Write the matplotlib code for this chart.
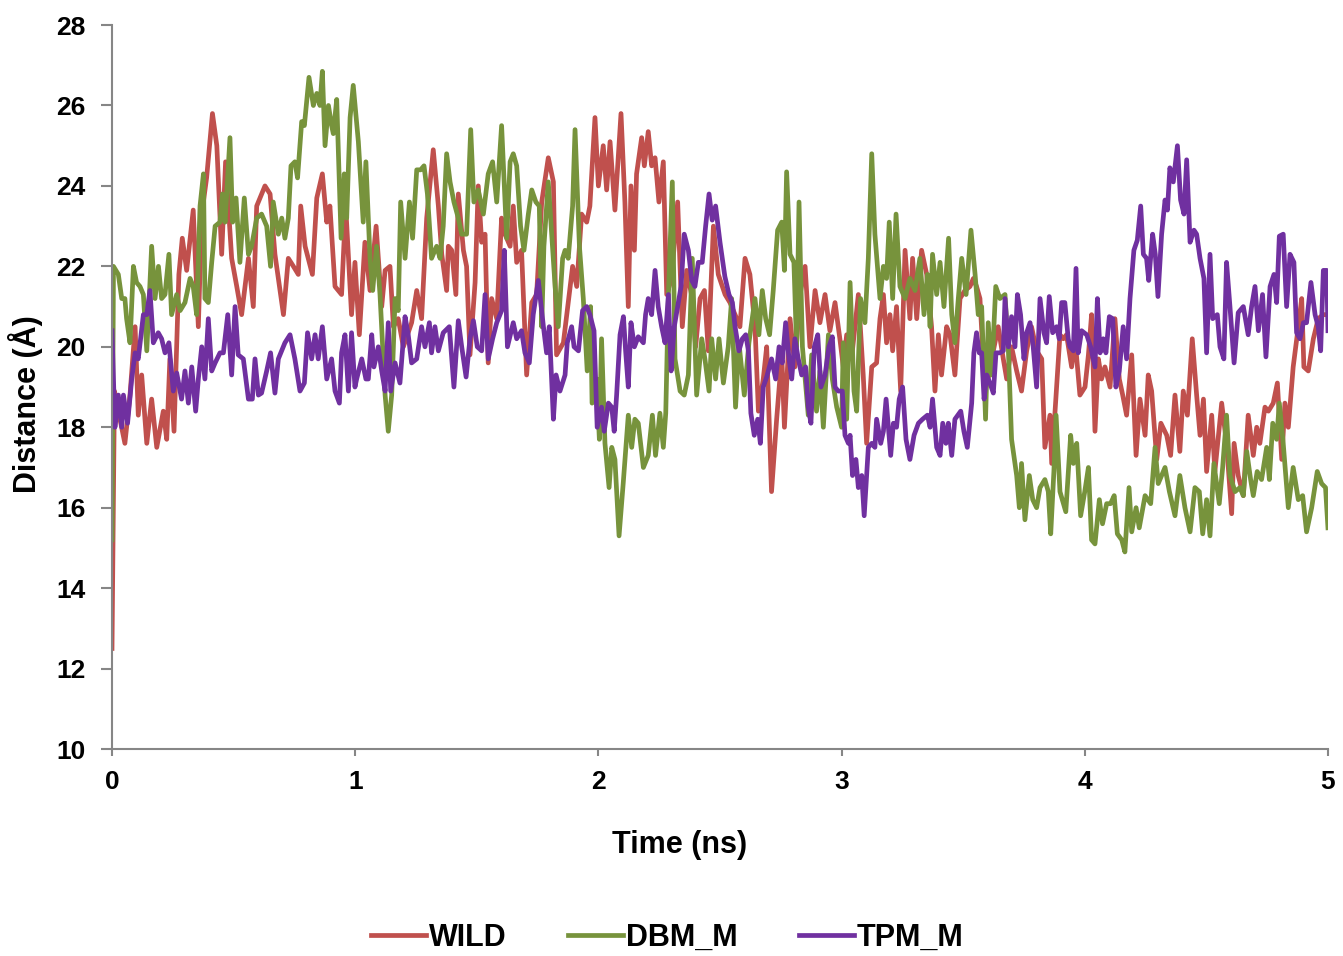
import matplotlib
matplotlib.use("Agg")
import matplotlib.pyplot as plt

plt.rcParams['font.family'] = ['Liberation Sans', 'DejaVu Sans']
plt.rcParams['font.weight'] = 'bold'

# data (time in ns, distance in angstrom)
wild_t = [0.0, 0.01, 0.026, 0.053, 0.074, 0.095, 0.108, 0.122, 0.143, 0.163, 0.184, 0.211, 0.225, 0.238, 0.255,
          0.275, 0.289, 0.307, 0.334, 0.355, 0.369, 0.389, 0.413, 0.431, 0.451, 0.467, 0.492, 0.513, 0.533, 0.561,
          0.581, 0.595, 0.629, 0.65, 0.67, 0.705, 0.725, 0.746, 0.766, 0.776, 0.794, 0.824, 0.842, 0.865, 0.883,
          0.896, 0.917, 0.944, 0.961, 0.985, 0.999, 1.017, 1.04, 1.061, 1.086, 1.109, 1.123, 1.143, 1.157, 1.177,
          1.198, 1.232, 1.253, 1.273, 1.294, 1.321, 1.342, 1.356, 1.376, 1.383, 1.397, 1.414, 1.424, 1.445, 1.458,
          1.472, 1.493, 1.506, 1.52, 1.534, 1.547, 1.561, 1.582, 1.602, 1.616, 1.637, 1.65, 1.664, 1.684, 1.705,
          1.726, 1.746, 1.767, 1.794, 1.815, 1.828, 1.856, 1.876, 1.894, 1.911, 1.931, 1.952, 1.965, 1.986, 2.0,
          2.02, 2.034, 2.048, 2.068, 2.093, 2.109, 2.123, 2.134, 2.148, 2.157, 2.178, 2.189, 2.205, 2.219, 2.233,
          2.249, 2.267, 2.281, 2.301, 2.326, 2.345, 2.363, 2.383, 2.4, 2.418, 2.436, 2.452, 2.473, 2.493, 2.521,
          2.541, 2.562, 2.582, 2.603, 2.623, 2.644, 2.658, 2.678, 2.692, 2.712, 2.733, 2.754, 2.765, 2.788, 2.808,
          2.829, 2.85, 2.87, 2.891, 2.911, 2.932, 2.952, 2.973, 2.993, 3.007, 3.021, 3.041, 3.069, 3.089, 3.103,
          3.124, 3.144, 3.158, 3.172, 3.185, 3.199, 3.21, 3.226, 3.243, 3.261, 3.281, 3.292, 3.309, 3.329, 3.35,
          3.37, 3.384, 3.398, 3.411, 3.432, 3.446, 3.466, 3.487, 3.507, 3.528, 3.542, 3.555, 3.569, 3.59, 3.61,
          3.624, 3.644, 3.665, 3.679, 3.699, 3.72, 3.74, 3.761, 3.781, 3.802, 3.823, 3.836, 3.857, 3.864, 3.884,
          3.898, 3.912, 3.925, 3.946, 3.96, 3.98, 4.001, 4.015, 4.028, 4.042, 4.056, 4.069, 4.083, 4.104, 4.124,
          4.142, 4.156, 4.172, 4.193, 4.211, 4.227, 4.248, 4.261, 4.275, 4.296, 4.313, 4.337, 4.353, 4.371, 4.391,
          4.405, 4.422, 4.442, 4.46, 4.474, 4.488, 4.501, 4.522, 4.535, 4.563, 4.583, 4.604, 4.614, 4.631, 4.652,
          4.672, 4.693, 4.707, 4.72, 4.741, 4.755, 4.775, 4.792, 4.81, 4.823, 4.837, 4.857, 4.878, 4.892, 4.901,
          4.919, 4.94, 4.96, 4.981, 5.0]
wild_d = [12.5, 18.9, 18.4, 17.6, 18.8, 20.5, 18.3, 19.3, 17.6, 18.7, 17.5, 18.4, 17.7, 19.7, 17.9,
          21.8, 22.7, 21.9, 23.4, 20.5, 23.3, 24.2, 25.8, 25.0, 22.3, 24.6, 22.2, 21.5, 20.8, 22.2,
          21.0, 23.5, 24.0, 23.8, 22.3, 20.8, 22.2, 22.0, 21.8, 23.5, 22.5, 21.8, 23.7, 24.3, 23.1,
          23.5, 21.5, 21.3, 23.5, 20.8, 22.1, 20.3, 22.6, 21.4, 23.0, 21.0, 21.9, 22.0, 20.5, 20.7,
          20.0, 20.6, 21.4, 20.7, 23.2, 24.9, 23.5, 22.3, 21.4, 22.5, 22.4, 21.3, 23.8, 22.4, 22.0,
          19.8, 21.6, 24.0, 22.6, 22.8, 19.6, 21.2, 20.7, 23.2, 22.8, 22.5, 23.5, 22.1, 22.4, 19.3,
          21.1, 21.3, 23.6, 24.7, 24.1, 19.8, 20.1, 21.1, 22.0, 21.5, 23.3, 23.1, 23.5, 25.7, 24.0,
          25.0, 23.9, 25.1, 23.4, 25.8, 23.6, 21.0, 24.0, 22.4, 24.3, 25.2, 24.5, 25.35, 24.5, 24.7,
          23.6, 24.6, 21.3, 21.7, 23.6, 20.5, 21.9, 21.3, 20.0, 21.2, 21.4, 19.9, 23.0, 21.8, 21.3,
          21.1, 20.8, 20.5, 22.2, 21.8, 20.5, 18.4, 19.2, 20.0, 16.4, 18.2, 19.8, 18.0, 20.7, 19.5,
          21.3, 22.0, 20.0, 21.4, 20.6, 21.3, 20.4, 21.1, 20.2, 19.5, 20.3, 19.7, 21.3, 19.3, 17.6,
          19.5, 19.6, 20.7, 21.3, 20.1, 20.8, 19.9, 21.0, 18.9, 22.4, 20.7, 22.2, 20.7, 22.4, 21.8,
          20.5, 18.9, 20.3, 19.3, 20.5, 20.3, 19.3, 21.2, 21.4, 21.5, 21.7, 21.5, 21.2, 18.9, 19.4,
          19.9, 20.5, 19.7, 19.2, 20.0, 19.4, 18.9, 19.9, 20.5, 19.9, 19.7, 17.5, 18.3, 17.1, 19.0,
          20.3, 20.2, 20.3, 19.5, 20.2, 18.8, 19.0, 19.8, 20.8, 17.9, 19.7, 19.2, 19.5, 19.0, 20.7,
          19.2, 18.8, 18.3, 19.8, 17.3, 18.7, 17.8, 19.3, 18.9, 17.2, 18.1, 17.8, 17.3, 18.8, 17.4,
          18.9, 18.3, 20.2, 18.8, 17.8, 18.7, 16.9, 18.3, 16.9, 18.6, 17.6, 15.85, 17.6, 16.8, 16.3,
          18.3, 17.3, 18.0, 17.6, 18.5, 18.4, 18.6, 19.1, 17.2, 18.6, 18.0, 19.5, 20.5, 21.2, 19.5,
          19.4, 20.2, 20.7, 20.8, 20.8]

dbm_t = [0.0, 0.006, 0.026, 0.04, 0.053, 0.06, 0.074, 0.088, 0.101, 0.115, 0.129, 0.143, 0.163, 0.177, 0.191,
         0.204, 0.218, 0.234, 0.245, 0.266, 0.28, 0.3, 0.321, 0.334, 0.348, 0.362, 0.376, 0.382, 0.396, 0.41,
         0.424, 0.444, 0.454, 0.465, 0.485, 0.496, 0.51, 0.526, 0.544, 0.561, 0.574, 0.595, 0.615, 0.636, 0.652,
         0.663, 0.684, 0.698, 0.711, 0.725, 0.736, 0.752, 0.763, 0.78, 0.791, 0.81, 0.828, 0.842, 0.855, 0.865,
         0.876, 0.89, 0.903, 0.91, 0.924, 0.942, 0.955, 0.965, 0.979, 0.992, 1.013, 1.033, 1.044, 1.061, 1.072,
         1.088, 1.102, 1.123, 1.136, 1.15, 1.164, 1.177, 1.187, 1.205, 1.223, 1.236, 1.253, 1.269, 1.283, 1.297,
         1.314, 1.335, 1.349, 1.362, 1.376, 1.39, 1.406, 1.424, 1.438, 1.458, 1.475, 1.488, 1.506, 1.527, 1.547,
         1.565, 1.582, 1.602, 1.616, 1.623, 1.637, 1.65, 1.664, 1.68, 1.694, 1.712, 1.726, 1.743, 1.757, 1.767,
         1.776, 1.794, 1.808, 1.822, 1.835, 1.853, 1.863, 1.876, 1.894, 1.904, 1.922, 1.938, 1.954, 1.968, 1.974,
         1.993, 2.004, 2.013, 2.027, 2.044, 2.055, 2.068, 2.085, 2.102, 2.123, 2.137, 2.15, 2.164, 2.185, 2.205,
         2.222, 2.235, 2.253, 2.267, 2.277, 2.288, 2.304, 2.315, 2.336, 2.353, 2.37, 2.386, 2.404, 2.425, 2.438,
         2.455, 2.466, 2.482, 2.496, 2.514, 2.534, 2.548, 2.564, 2.578, 2.6, 2.619, 2.644, 2.66, 2.674, 2.688,
         2.704, 2.719, 2.737, 2.754, 2.765, 2.774, 2.788, 2.804, 2.815, 2.825, 2.839, 2.863, 2.877, 2.897, 2.911,
         2.925, 2.946, 2.962, 2.98, 3.0, 3.007, 3.021, 3.035, 3.051, 3.062, 3.078, 3.096, 3.11, 3.124, 3.137,
         3.158, 3.172, 3.185, 3.196, 3.21, 3.224, 3.24, 3.261, 3.281, 3.302, 3.322, 3.339, 3.353, 3.364, 3.374,
         3.391, 3.405, 3.421, 3.44, 3.453, 3.466, 3.48, 3.494, 3.512, 3.532, 3.549, 3.562, 3.576, 3.592, 3.603,
         3.617, 3.634, 3.651, 3.672, 3.686, 3.699, 3.72, 3.731, 3.74, 3.754, 3.772, 3.786, 3.802, 3.816, 3.836,
         3.85, 3.86, 3.873, 3.882, 3.898, 3.922, 3.942, 3.953, 3.967, 3.983, 4.0, 4.015, 4.028, 4.042, 4.06,
         4.073, 4.09, 4.106, 4.121, 4.134, 4.152, 4.165, 4.182, 4.193, 4.211, 4.224, 4.248, 4.271, 4.289, 4.302,
         4.33, 4.348, 4.371, 4.391, 4.412, 4.433, 4.453, 4.471, 4.485, 4.501, 4.515, 4.531, 4.553, 4.567, 4.583,
         4.597, 4.618, 4.638, 4.652, 4.666, 4.682, 4.693, 4.709, 4.727, 4.748, 4.759, 4.773, 4.789, 4.8, 4.816,
         4.837, 4.857, 4.878, 4.896, 4.912, 4.933, 4.956, 4.974, 4.99, 5.0]
dbm_d = [15.2, 22.0, 21.8, 21.2, 21.2, 20.7, 20.1, 22.0, 21.6, 21.5, 21.3, 19.9, 22.5, 21.2, 22.0,
         21.2, 21.3, 22.3, 20.8, 21.3, 20.9, 21.1, 21.7, 21.5, 20.8, 23.5, 24.3, 21.2, 21.1, 22.1,
         23.0, 23.1, 23.8, 23.1, 25.2, 23.1, 23.7, 22.1, 23.7, 22.3, 22.5, 23.2, 23.3, 23.0, 22.0,
         23.6, 22.8, 23.2, 22.7, 23.2, 24.5, 24.6, 24.2, 25.6, 25.5, 26.7, 26.0, 26.3, 26.0, 26.85,
         25.0, 26.0, 25.5, 25.3, 26.15, 22.7, 24.3, 23.2, 25.7, 26.5, 25.1, 23.1, 24.6, 22.2, 21.4,
         22.5, 21.3, 18.8, 17.9, 18.8, 21.2, 20.9, 23.6, 22.2, 23.6, 22.7, 24.4, 24.4, 24.5, 23.8,
         22.2, 22.5, 22.2, 23.0, 24.8, 24.1, 23.6, 23.2, 22.8, 22.8, 25.4, 23.6, 23.9, 23.3, 24.3,
         24.6, 23.6, 25.5, 23.6, 22.7, 24.6, 24.8, 24.5, 23.0, 22.4, 23.3, 23.9, 23.6, 23.5, 20.5,
         22.5, 24.1, 22.8, 21.5, 20.5, 22.2, 22.4, 22.2, 23.5, 25.4, 22.5, 21.2, 19.4, 21.0, 18.6,
         19.2, 17.7, 20.2, 17.6, 16.5, 17.5, 17.2, 15.3, 16.6, 18.3, 17.5, 18.2, 18.1, 17.0, 17.3,
         18.3, 17.3, 18.35, 17.5, 18.35, 21.3, 24.1, 19.7, 18.9, 18.8, 19.3, 22.2, 18.8, 20.2, 19.7,
         18.9, 20.2, 19.2, 20.2, 19.1, 20.0, 21.2, 18.5, 20.1, 18.8, 20.1, 21.2, 20.3, 21.4, 20.7,
         20.3, 21.4, 22.9, 23.1, 21.9, 24.35, 22.3, 22.1, 20.0, 23.6, 20.0, 18.3, 19.8, 18.4, 19.4,
         18.0, 20.3, 19.2, 18.5, 18.0, 20.1, 18.2, 21.6, 18.9, 18.4, 21.2, 20.6, 22.2, 24.8, 22.8,
         21.2, 22.0, 21.7, 23.1, 21.2, 23.3, 21.5, 21.2, 21.7, 21.4, 22.2, 20.8, 21.8, 20.5, 22.3,
         21.3, 22.1, 21.0, 22.7, 20.8, 20.1, 21.2, 22.2, 21.3, 22.9, 21.8, 20.8, 21.0, 18.2, 20.6,
         19.3, 21.5, 21.2, 21.3, 19.9, 17.7, 16.8, 16.0, 17.1, 15.7, 16.8, 16.2, 16.0, 16.5, 16.7,
         16.4, 15.35, 16.9, 18.3, 16.4, 15.9, 17.8, 17.1, 17.6, 15.8, 16.4, 17.0, 15.2, 15.1, 16.2,
         15.6, 16.1, 16.1, 16.3, 15.35, 15.2, 14.9, 16.5, 15.4, 16.0, 15.5, 16.3, 16.1, 17.5, 16.6,
         17.0, 16.4, 15.8, 16.8, 16.0, 15.4, 16.5, 16.4, 15.35, 16.2, 15.3, 17.1, 16.1, 17.0, 18.3,
         16.8, 16.4, 16.5, 16.3, 17.4, 16.7, 16.3, 16.9, 16.7, 17.5, 16.7, 18.1, 17.7, 18.6, 17.6,
         16.0, 17.0, 16.2, 16.3, 15.4, 16.0, 16.9, 16.6, 16.5, 15.5]

tpm_t = [0.0, 0.012, 0.026, 0.04, 0.047, 0.064, 0.081, 0.095, 0.108, 0.129, 0.143, 0.156, 0.17, 0.19, 0.204,
         0.218, 0.234, 0.252, 0.266, 0.286, 0.3, 0.314, 0.328, 0.344, 0.355, 0.369, 0.382, 0.396, 0.41, 0.424,
         0.444, 0.458, 0.476, 0.492, 0.506, 0.519, 0.54, 0.561, 0.577, 0.588, 0.602, 0.615, 0.636, 0.652, 0.67,
         0.684, 0.711, 0.732, 0.752, 0.773, 0.791, 0.804, 0.821, 0.835, 0.848, 0.865, 0.883, 0.903, 0.917, 0.935,
         0.944, 0.958, 0.972, 0.985, 0.999, 1.006, 1.027, 1.044, 1.054, 1.068, 1.077, 1.095, 1.109, 1.123, 1.136,
         1.146, 1.164, 1.184, 1.205, 1.218, 1.232, 1.253, 1.273, 1.287, 1.305, 1.314, 1.328, 1.342, 1.362, 1.387,
         1.406, 1.424, 1.438, 1.456, 1.472, 1.486, 1.502, 1.52, 1.534, 1.547, 1.565, 1.582, 1.602, 1.613, 1.626,
         1.65, 1.664, 1.684, 1.698, 1.716, 1.732, 1.753, 1.774, 1.787, 1.798, 1.815, 1.826, 1.842, 1.863, 1.872,
         1.89, 1.9, 1.918, 1.935, 1.952, 1.965, 1.982, 1.995, 2.013, 2.024, 2.041, 2.055, 2.065, 2.075, 2.089,
         2.103, 2.112, 2.123, 2.134, 2.148, 2.164, 2.185, 2.194, 2.205, 2.219, 2.233, 2.246, 2.26, 2.274, 2.288,
         2.299, 2.312, 2.326, 2.34, 2.353, 2.37, 2.384, 2.397, 2.411, 2.427, 2.441, 2.455, 2.468, 2.482, 2.5,
         2.52, 2.537, 2.551, 2.562, 2.578, 2.592, 2.606, 2.617, 2.627, 2.641, 2.655, 2.666, 2.678, 2.692, 2.712,
         2.729, 2.743, 2.756, 2.77, 2.784, 2.795, 2.808, 2.822, 2.836, 2.852, 2.863, 2.874, 2.888, 2.902, 2.915,
         2.932, 2.948, 2.962, 2.973, 2.986, 3.003, 3.014, 3.028, 3.035, 3.045, 3.059, 3.069, 3.083, 3.093, 3.11,
         3.124, 3.137, 3.144, 3.161, 3.172, 3.183, 3.202, 3.213, 3.226, 3.237, 3.251, 3.265, 3.281, 3.298, 3.316,
         3.333, 3.353, 3.364, 3.374, 3.391, 3.405, 3.416, 3.429, 3.439, 3.453, 3.466, 3.49, 3.503, 3.517, 3.535,
         3.544, 3.555, 3.566, 3.576, 3.586, 3.597, 3.61, 3.624, 3.635, 3.651, 3.665, 3.672, 3.686, 3.699, 3.713,
         3.723, 3.736, 3.75, 3.761, 3.775, 3.788, 3.802, 3.816, 3.832, 3.843, 3.854, 3.868, 3.884, 3.895, 3.905,
         3.918, 3.932, 3.939, 3.953, 3.964, 3.973, 3.987, 4.008, 4.024, 4.042, 4.052, 4.063, 4.076, 4.087, 4.101,
         4.115, 4.128, 4.142, 4.158, 4.172, 4.186, 4.202, 4.216, 4.23, 4.241, 4.254, 4.263, 4.279, 4.29, 4.301,
         4.316, 4.33, 4.34, 4.35, 4.364, 4.381, 4.394, 4.408, 4.419, 4.433, 4.449, 4.46, 4.474, 4.49, 4.501,
         4.515, 4.526, 4.545, 4.556, 4.572, 4.583, 4.597, 4.614, 4.631, 4.652, 4.672, 4.686, 4.7, 4.714, 4.731,
         4.745, 4.762, 4.778, 4.789, 4.8, 4.816, 4.83, 4.844, 4.86, 4.871, 4.885, 4.899, 4.912, 4.93, 4.947,
         4.96, 4.97, 4.981, 4.995, 5.0]
tpm_d = [20.4, 18.0, 18.8, 18.0, 18.8, 18.1, 19.2, 19.85, 19.7, 20.8, 20.8, 21.4, 20.1, 20.35, 20.2,
         19.85, 20.1, 18.9, 19.35, 18.7, 19.4, 18.6, 19.5, 18.4, 19.2, 20.0, 19.2, 20.7, 19.4, 19.6,
         19.85, 19.85, 20.8, 19.3, 21.0, 19.8, 19.7, 18.7, 18.7, 19.7, 18.8, 18.85, 19.4, 19.85, 18.85,
         19.7, 20.1, 20.3, 19.7, 18.9, 19.1, 20.35, 19.7, 20.3, 19.7, 20.5, 19.2, 19.7, 18.9, 18.6,
         19.85, 20.3, 18.9, 20.35, 19.0, 19.2, 19.7, 19.2, 19.2, 20.3, 19.5, 20.0, 19.4, 18.9, 20.6,
         18.9, 19.6, 19.1, 20.75, 20.3, 19.6, 19.7, 20.5, 20.0, 20.6, 19.85, 20.5, 19.9, 20.35, 20.5,
         19.0, 20.65, 20.0, 19.25, 20.2, 20.65, 20.0, 19.9, 21.3, 19.7, 20.2, 20.6, 20.9, 22.4, 20.0,
         20.6, 20.2, 20.4, 19.85, 19.6, 20.8, 21.65, 20.5, 19.85, 20.5, 18.2, 19.3, 18.9, 19.3, 20.1,
         20.5, 20.0, 19.9, 20.9, 21.0, 20.8, 20.4, 18.0, 18.5, 17.9, 18.6, 18.5, 17.9, 18.8, 20.3,
         20.75, 19.9, 19.0, 20.6, 20.0, 20.25, 20.1, 20.8, 21.2, 20.8, 21.9, 21.0, 20.5, 20.1, 21.3,
         19.4, 20.5, 21.0, 21.5, 22.8, 22.4, 21.65, 21.5, 22.1, 22.1, 23.0, 23.8, 23.15, 23.5, 22.6,
         21.75, 21.3, 21.1, 20.5, 19.9, 20.2, 20.3, 19.9, 18.35, 17.8, 18.2, 17.6, 19.0, 19.25, 19.7,
         19.2, 20.0, 19.6, 20.6, 19.7, 19.2, 20.2, 19.7, 19.3, 19.5, 18.5, 18.1, 20.0, 20.3, 19.0,
         19.3, 20.0, 20.25, 19.0, 18.9, 18.9, 17.8, 17.6, 17.8, 16.8, 17.2, 16.5, 16.8, 15.8, 17.5,
         17.6, 17.5, 18.2, 17.6, 17.9, 18.7, 17.3, 18.1, 18.0, 18.7, 19.0, 17.7, 17.2, 17.8, 18.1,
         18.2, 18.3, 18.0, 18.7, 17.5, 17.3, 18.1, 17.6, 18.1, 17.3, 18.2, 18.4, 17.9, 17.5, 18.6,
         19.85, 20.35, 19.85, 19.85, 18.7, 19.3, 19.1, 18.85, 19.85, 19.85, 19.9, 21.2, 20.0, 20.75, 20.0,
         21.3, 20.8, 19.7, 20.35, 20.6, 20.0, 19.0, 21.2, 20.35, 20.1, 21.25, 20.35, 20.5, 20.2, 21.1,
         21.1, 20.2, 20.0, 19.9, 21.95, 19.85, 20.4, 20.3, 20.0, 19.5, 21.2, 19.85, 20.2, 19.85, 20.75,
         20.7, 19.0, 19.4, 20.5, 19.7, 21.2, 22.4, 22.65, 23.5, 22.3, 22.2, 21.65, 22.8, 22.3, 21.25,
         22.8, 23.65, 23.4, 24.45, 24.1, 25.0, 23.65, 23.3, 24.65, 22.6, 22.9, 22.8, 22.2, 21.7, 19.85,
         22.3, 20.7, 20.8, 20.0, 19.7, 22.1, 21.0, 19.6, 20.85, 21.0, 20.3, 21.0, 21.5, 20.4, 21.3,
         19.75, 21.5, 21.8, 21.1, 22.75, 22.8, 21.0, 22.3, 22.1, 20.35, 20.2, 20.6, 20.6, 21.6, 20.8,
         20.5, 19.9, 21.9, 21.9, 20.4]

series_names = ["WILD", "DBM_M", "TPM_M"]
colors = ["#C0504D", "#77933C", "#7030A0"]
x_ticks = [0, 1, 2, 3, 4, 5]
y_ticks = [10, 12, 14, 16, 18, 20, 22, 24, 26, 28]

fig = plt.figure(figsize=(13.43, 9.56), dpi=100)
ax = fig.add_axes([0.0834, 0.2165, 0.9054, 0.7573])

for t, d, name, c in zip([wild_t, dbm_t, tpm_t], [wild_d, dbm_d, tpm_d], series_names, colors):
    ax.plot(t, d, color=c, lw=3.4, label=name, solid_joinstyle='round')

ax.set_xlim(0, 5)
ax.set_ylim(10, 28)
ax.set_xticks(x_ticks)
ax.set_yticks(y_ticks)
ax.tick_params(axis='both', colors='#868686', labelcolor='black', labelsize=19, width=1.5)
ax.tick_params(axis='y', length=8, pad=11)
ax.tick_params(axis='x', length=5, pad=10)
for lab in ax.get_xticklabels() + ax.get_yticklabels():
    lab.set_fontweight('bold')
for s in ['top', 'right']:
    ax.spines[s].set_visible(False)
for s in ['left', 'bottom']:
    ax.spines[s].set_color('#868686')
    ax.spines[s].set_linewidth(1.5)

ax.set_xlabel("Time (ns)", fontsize=22, fontweight='bold')
ax.xaxis.set_label_coords(0.467, -0.112)
ax.set_ylabel("Distance (Å)", fontsize=22, fontweight='bold')
ax.yaxis.set_label_coords(-0.057, 0.4765)

fig.legend(loc='center', bbox_to_anchor=(0.497, 0.019), ncol=3, frameon=False,
           handlelength=1.8, handletextpad=0.1, columnspacing=2.0,
           prop={'weight': 'bold', 'size': 22})

fig.savefig("out.png", dpi=100)
